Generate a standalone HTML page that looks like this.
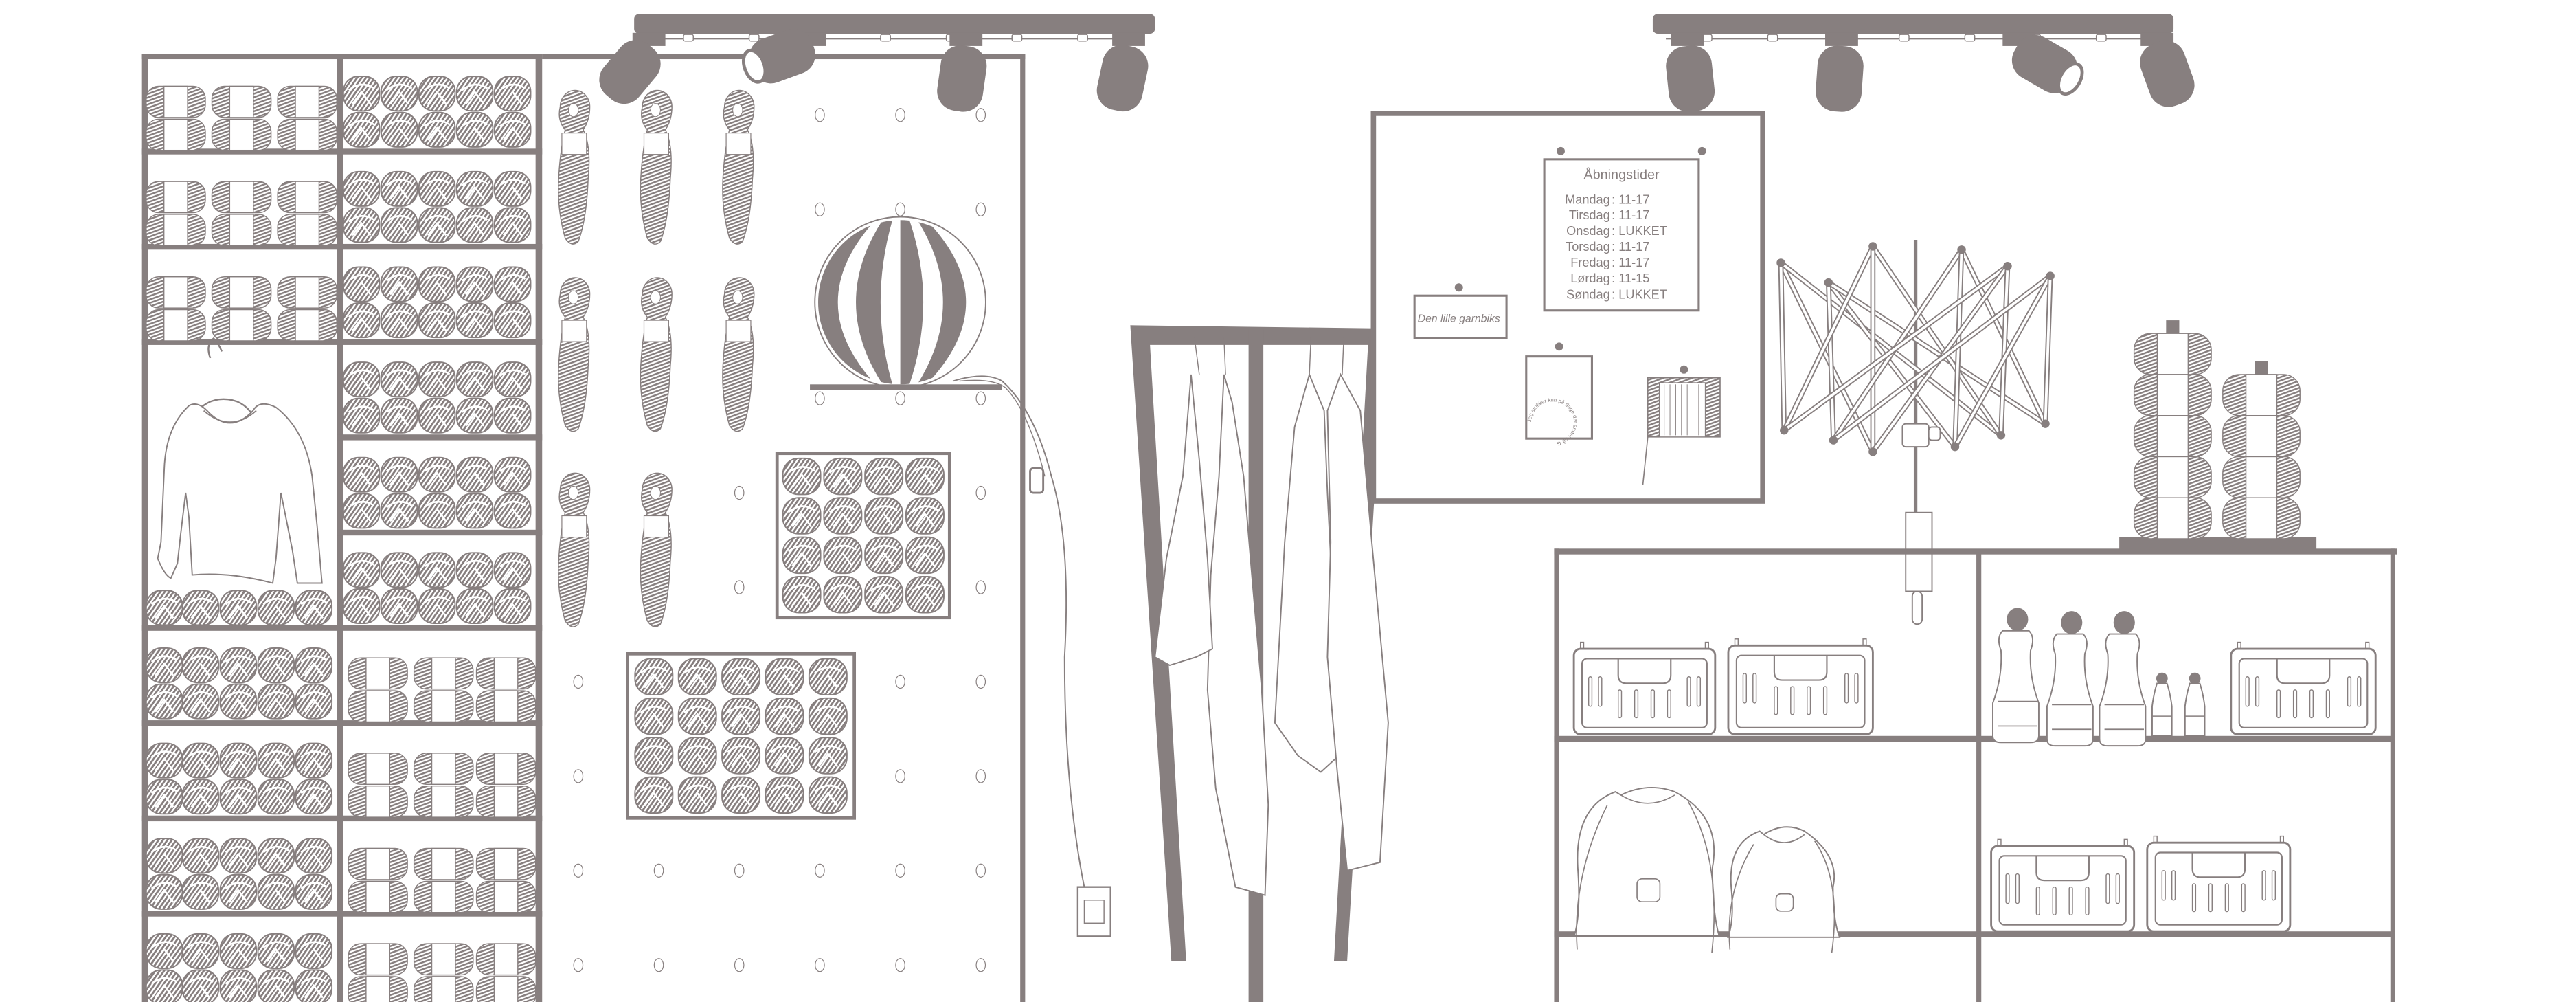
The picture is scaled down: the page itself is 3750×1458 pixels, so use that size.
<!DOCTYPE html>
<html><head><meta charset="utf-8"><style>
html,body{margin:0;padding:0;background:#fff;}
svg{display:block;}
text{font-family:"Liberation Sans",sans-serif;fill:#877f7f;}
</style></head><body>
<svg id="s" width="3750" height="1458" viewBox="0 0 1568 610" preserveAspectRatio="none" xmlns="http://www.w3.org/2000/svg">
<defs>
<pattern id="h" width="2.2" height="2.2" patternUnits="userSpaceOnUse" patternTransform="rotate(35)">
<rect width="2.2" height="2.2" fill="#fff"/><rect width="1.2" height="2.2" fill="#877f7f"/></pattern>
<pattern id="h2" width="2" height="2" patternUnits="userSpaceOnUse" patternTransform="rotate(70)">
<rect width="2" height="2" fill="#fff"/><rect width="1.05" height="2" fill="#877f7f"/></pattern>
<path id="circ" d="M945,257 m-13,0 a13,12.5 0 1,1 26,0 a13,12.5 0 1,1 -26,0"/>
</defs>
<g id="g"></g>
<g id="txt">
<text x="987" y="109" font-size="8.3" text-anchor="middle">Åbningstider</text>
<g font-size="7.6">
<text x="980" y="124" text-anchor="end">Mandag</text><text x="981" y="124">: 11-17</text>
<text x="980" y="133.5" text-anchor="end">Tirsdag</text><text x="981" y="133.5">: 11-17</text>
<text x="980" y="143" text-anchor="end">Onsdag</text><text x="981" y="143">: LUKKET</text>
<text x="980" y="152.8" text-anchor="end">Torsdag</text><text x="981" y="152.8">: 11-17</text>
<text x="980" y="162.4" text-anchor="end">Fredag</text><text x="981" y="162.4">: 11-17</text>
<text x="980" y="172" text-anchor="end">Lørdag</text><text x="981" y="172">: 11-15</text>
<text x="980" y="181.7" text-anchor="end">Søndag</text><text x="981" y="181.7">: LUKKET</text>
</g>
<text x="888" y="196" font-size="6.6" text-anchor="middle" font-style="italic">Den lille garnbiks</text>
<text font-size="3.2"><textPath href="#circ">Jeg strikker kun på dage der ender på G</textPath></text>
</g>
</svg>
<script>
const C='#877f7f';let o='';
const R=(x,y,w,h,ex='')=>o+=`<rect x="${x}" y="${y}" width="${w}" height="${h}" ${ex}/>`;
const F=(x,y,w,h)=>R(x,y,w,h,`fill="${C}"`);
const L=(x1,y1,x2,y2,w=1)=>o+=`<line x1="${x1}" y1="${y1}" x2="${x2}" y2="${y2}" stroke="${C}" stroke-width="${w}"/>`;
const P=(d,ex='fill="#fff" stroke="'+C+'" stroke-width="0.8"')=>o+=`<path d="${d}" ${ex}/>`;
function ball(cx,cy,w,h){o+=`<rect x="${cx-w/2}" y="${cy-h/2}" width="${w}" height="${h}" rx="${w*0.42}" fill="url(#h)" stroke="${C}" stroke-width="0.8"/>`;
 o+=`<path d="M${cx-w*0.35},${cy-h*0.1} Q${cx},${cy-h*0.4} ${cx+w*0.35},${cy-h*0.15} M${cx-w*0.25},${cy+h*0.3} L${cx},${cy-h*0.05} L${cx+w*0.25},${cy+h*0.3}" stroke="#fff" stroke-width="1.1" fill="none"/>`;}
function band(cx,cy,w,h){o+=`<rect x="${cx-w/2}" y="${cy-h/2}" width="${w}" height="${h}" rx="${h*0.4}" fill="url(#h2)" stroke="${C}" stroke-width="0.6"/>`;
 R(cx-w*0.2,cy-h/2,w*0.4,h,`fill="#fff" stroke="${C}" stroke-width="0.6"`);}
// left shelf frame
F(86,33,4,577);F(205,33,4,577);F(326,33,4,577);F(86,33,244,3);
[92,150,208,382,440,498,556].forEach(y=>F(86,y-1.5,244,3.5));
[266,324].forEach(y=>F(205,y-1.5,125,3.5));
[36,94,152].forEach(t=>{[107,147,187].forEach(x=>{band(x,t+26,36,19);band(x,t+46,36,19);});});
[100,122,145,168,191].forEach(x=>ball(x,370,22,21));
[384,442,500,558].forEach(t=>{[100,122,145,168,191].forEach(x=>{ball(x,t+21,22,21);ball(x,t+43,22,21);});});
[36,94,152,210,268,326].forEach(t=>{[220,243,266,289,312].forEach(x=>{ball(x,t+21,22,21);ball(x,t+43,22,21);});});
[384,442,500,558].forEach(t=>{[230,270,308].forEach(x=>{band(x,t+26,36,19);band(x,t+46,36,19);});});
// sweater
P('M128,218 q-3,-8 2,-12 q3,3 5,8 M118,253 q7,-10 18,-10 q12,0 18,10','fill="none" stroke="'+C+'" stroke-width="1"');
P('M115,247 Q101,260 100,285 L98,330 L96,340 Q100,350 104,352 L108,343 L110,325 L113,300 L115,315 L117,350 Q140,348 166,355 L168,340 L171,300 L178,335 L181,355 L196,355 L193,320 L190,290 Q186,262 168,248 Q158,243 154,250 Q140,265 126,250 Q120,244 115,247 Z');
P('M124,250 q16,14 32,0','fill="none" stroke="'+C+'" stroke-width="0.8"');
// pegboard
F(330,33,294,3);F(621,33,3,577);
for(let y=70;y<610;y+=57.5)for(let x=352;x<610;x+=49)o+=`<ellipse cx="${x}" cy="${y}" rx="2.8" ry="4" fill="#fff" stroke="${C}" stroke-width="0.5"/>`;
function hank(x,y,h){
 P(`M${x-9},${y+12} a9,10 0 1,1 18,0 q0,8 -4,14 q5,10 3,30 q-1,25 -6,38 q-4,4 -8,-2 q-5,-18 -4,-36 q1,-18 4,-30 q-5,-6 -3,-14z`,`fill="url(#h2)" stroke="${C}" stroke-width="0.6"`);
 o+=`<ellipse cx="${x-1}" cy="${y+14}" rx="3" ry="4" fill="#fff" stroke="${C}" stroke-width="0.4"/>`;
 R(x-8,y+28,15,13,`fill="#fff" stroke="${C}" stroke-width="0.5"`);}
[[350,53],[400,53],[450,53],[350,167],[400,167],[450,167],[350,286],[400,286]].forEach(a=>hank(a[0],a[1],90));
// lamp
o+=`<ellipse cx="548" cy="184" rx="52" ry="52" fill="#fff" stroke="${C}" stroke-width="0.8"/>`;
o+=`<clipPath id="lc"><ellipse cx="548" cy="184" rx="50" ry="50"/></clipPath><g clip-path="url(#lc)">`;
[[-52,-38],[-27,-12],[0,14],[26,40]].forEach(a=>P(`M${548+a[0]*0.35},132 L${548+a[1]*0.35},132 Q${548+a[1]*1.65},184 ${548+a[1]*0.35},236 L${548+a[0]*0.35},236 Q${548+a[0]*1.65},184 ${548+a[0]*0.35},132Z`,`fill="${C}"`));
o+=`</g>`;F(493,234,117,3.5);
P('M580,232 Q600,226 610,232 Q630,250 640,290 Q652,330 648,400 Q648,480 660,540','fill="none" stroke="'+C+'" stroke-width="0.8"');
P('M584,232 Q604,230 612,236 Q626,250 636,290','fill="none" stroke="'+C+'" stroke-width="0.6"');
R(627,285,8,15,`fill="#fff" stroke="${C}" stroke-width="1.2" rx="2"`);
R(656,540,20,30,`fill="#fff" stroke="${C}" stroke-width="1"`);R(660,548,12,14,`fill="none" stroke="${C}" stroke-width="0.6"`);
// yarn panels
R(473,276,105,100,`fill="#fff" stroke="${C}" stroke-width="2"`);
for(let r=0;r<4;r++)for(let c=0;c<4;c++)ball(488+c*25,290+r*24,23,22);
R(382,398,138,100,`fill="#fff" stroke="${C}" stroke-width="2"`);
for(let r=0;r<4;r++)for(let c=0;c<5;c++)ball(398+c*26.5,412+r*24,23,22);
// track lights
function track(x1,x2,heads){o+=`<rect x="${x1}" y="8.5" width="${x2-x1}" height="12" rx="3" fill="${C}"/>`;L(x1+8,23.5,x2-8,23.5,1);
 for(let x=x1+30;x<x2-10;x+=40)R(x,21,6,4,`fill="#fff" stroke="${C}" stroke-width="0.6" rx="1"`);
 heads.forEach(h=>{F(h[0]-10,20,20,8);o+=`<g transform="translate(${h[0]},${h[1]}) rotate(${h[2]})"><rect x="-14" y="-2" width="28" height="40" rx="12" fill="${C}"/>${h[3]?'<ellipse cx="0" cy="36" rx="10" ry="6" fill="#fff" stroke="'+C+'" stroke-width="2"/>':''}</g>`;});}
track(386,703,[[395,30,40,0],[493,28,70,1],[588,30,8,0],[687,30,12,0]]);
track(1006,1323,[[1027,30,-6,0],[1121,30,4,0],[1229,30,-60,1],[1313,28,-20,0]]);
// clothes rack
P('M688,198 L845,200 L845,210 L700,210 L722,585 L713,585 Z',`fill="${C}"`);
F(760,200,9,410);P('M845,200 L842,210 L820,585 L812,585 L833,205Z',`fill="${C}"`);
function cloth(d){P(d,'fill="#fff" stroke="'+C+'" stroke-width="0.8"');}
L(727,205,730,228,0.6);L(745,205,746,228,0.6);L(798,205,797,228,0.6);L(818,205,817,228,0.6);
cloth('M745,228 L742,290 L737,350 L735,420 L740,480 L752,540 L770,545 L772,490 L768,420 L762,350 L757,290 L750,245Z');
cloth('M725,228 L720,290 L710,340 L703,400 L712,405 L728,400 L738,395 L735,340 L730,280Z');
cloth('M797,228 L788,260 L782,330 L776,440 L790,460 L804,470 L815,460 L812,380 L808,300 L806,250Z');
cloth('M816,228 L808,250 L810,330 L808,400 L814,470 L820,530 L840,525 L845,440 L835,330 L828,250Z');
// board
R(836,69,237,236,`fill="#fff" stroke="${C}" stroke-width="3.2"`);
R(940,97,94,92,`fill="#fff" stroke="${C}" stroke-width="1.3"`);
R(861,180,56,26,`fill="#fff" stroke="${C}" stroke-width="1.3"`);
R(929,217,40,50,`fill="#fff" stroke="${C}" stroke-width="1.3"`);
[[950,94],[1036,94],[888,177],[949,213],[1025,227]].forEach(p=>o+=`<circle cx="${p[0]}" cy="${p[1]-2}" r="2.5" fill="${C}"/>`);
R(1003,230,44,36,`fill="url(#h2)" stroke="${C}" stroke-width="0.7"`);R(1010,233,28,33,`fill="#fff" stroke="${C}" stroke-width="0.5"`);
for(let x=1013;x<1036;x+=3.5)L(x,234,x,265,0.4);
L(1003,266,1000,295,0.7);
// swift
L(1166,146,1166,330,2.2);
const tops=[[1084,160],[1113,172],[1140,150],[1194,152],[1222,162],[1248,168]],bots=[[1086,262],[1116,268],[1140,275],[1190,272],[1218,265],[1245,258]];
for(let i=0;i<6;i++){const t=tops[i];[bots[(i+2)%6],bots[(i+4)%6],bots[i]].forEach(b=>{o+=`<line x1="${t[0]}" y1="${t[1]}" x2="${b[0]}" y2="${b[1]}" stroke="${C}" stroke-width="3.2"/><line x1="${t[0]}" y1="${t[1]}" x2="${b[0]}" y2="${b[1]}" stroke="#fff" stroke-width="1.6"/>`;});}
[...tops,...bots].forEach(p=>o+=`<circle cx="${p[0]}" cy="${p[1]}" r="2.6" fill="${C}"/>`);
R(1158,258,16,14,`fill="#fff" stroke="${C}" stroke-width="0.8" rx="2"`);R(1174,260,7,8,`fill="#fff" stroke="${C}" stroke-width="0.8" rx="2"`);
R(1160,312,16,48,`fill="#fff" stroke="${C}" stroke-width="0.8"`);R(1164,360,6,20,`fill="#fff" stroke="${C}" stroke-width="0.8" rx="3"`);
// right shelf
F(946,334,513,3.5);F(946,334,3,276);F(1455,334,3,276);F(1203,336,3,274);F(946,448,512,3.5);F(946,567,512,3.5);
F(1290,327,120,8);
function stack(x,y0,n,w){F(x+w/2-4,y0-8,8,8);for(let i=0;i<n;i++)band(x+w/2,y0+12.5+i*25,w,25);}
stack(1299,203,5,47);stack(1353,228,4,47);
function basket(x,y,w,h){R(x,y,w,h,`fill="#fff" stroke="${C}" stroke-width="1.2" rx="4"`);R(x+5,y+6,w-10,h-10,`fill="none" stroke="${C}" stroke-width="0.9" rx="3"`);
 P(`M${x+w/2-16},${y+6} v10 q0,5 5,5 h22 q5,0 5,-5 v-10`,'fill="none" stroke="'+C+'" stroke-width="0.9"');
 R(x+4,y-4,2,4,`fill="none" stroke="${C}" stroke-width="0.6"`);R(x+w-6,y-4,2,4,`fill="none" stroke="${C}" stroke-width="0.6"`);
 [10,16,w-16,w-10].forEach(d=>R(x+d-1,y+17,2,18,`fill="none" stroke="${C}" stroke-width="0.6" rx="1"`));
 [w/2-15,w/2-5,w/2+5,w/2+15].forEach(d=>R(x+d-1,y+25,2,17,`fill="none" stroke="${C}" stroke-width="0.6" rx="1"`));}
basket(958,395,86,52);basket(1052,393,88,54);basket(1358,395,88,52);basket(1212,515,87,52);basket(1307,513,87,54);
[[1215,372,26],[1248,374,26],[1280,374,26]].forEach(b=>{const[x,y,w]=b;o+=`<ellipse cx="${x+w/2}" cy="${y+5}" rx="6.5" ry="7" fill="${C}"/>`;
 P(`M${x+6},${y+12} h${w-12} q4,4 1,12 q-1,16 5,32 v20 q0,4 -5,4 h${-(w-8)} q-5,0 -5,-4 v-20 q6,-16 5,-32 q-3,-8 1,-12Z`);L(x+1,y+55,x+w-1,y+55,0.7);L(x+1,y+70,x+w-1,y+70,0.7);});
[[1310,410],[1330,410]].forEach(b=>{const[x,y]=b;o+=`<circle cx="${x+6}" cy="${y+3}" r="3.5" fill="${C}"/>`;P(`M${x+3},${y+6} h6 q2,6 3,14 v18 h-12 v-18 q1,-8 3,-14Z`);L(x,y+26,x+12,y+26,0.6);});
function bag(x,y,w,h){P(`M${x+w*0.3},${y+6} q${w*0.2},-8 ${w*0.4},-2 q${w*0.35},15 ${w*0.28},${h*0.5} q0,${h*0.3} 4,${h*0.45} h${-w-6} q4,-${h*0.15} 2,-${h*0.45} q-2,-${h*0.4} ${w*0.28},-${h*0.5}Z`);
 P(`M${x+w*0.3},${y+6} q${w*0.2},10 ${w*0.4},0 M${x+w*0.2},${y+12} Q${x-5},${y+h*0.6} ${x-2},${y+h+8} M${x+w*0.8},${y+10} Q${x+w+4},${y+h*0.5} ${x+w-2},${y+h+10}`,'fill="none" stroke="'+C+'" stroke-width="0.7"');
 R(x+w*0.42,y+h*0.62,w*0.17,w*0.17,`fill="#fff" stroke="${C}" stroke-width="0.7" rx="3"`);}
bag(962,478,82,92);bag(1055,502,62,68);
document.getElementById('g').innerHTML=o;
</script>
</body></html>
